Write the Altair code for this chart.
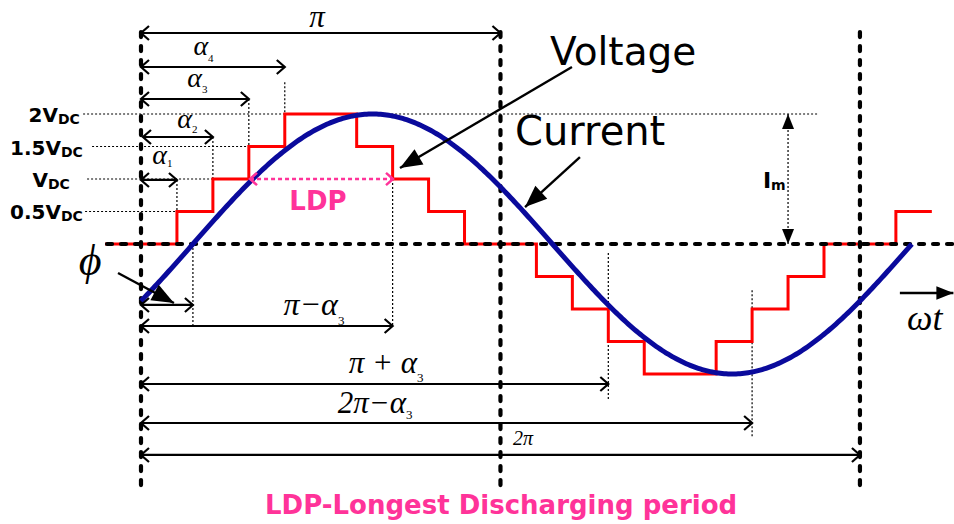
import math
import altair as alt
import pandas as pd

# ---------------------------------------------------------------
# Waveform data: angle ωt in degrees, amplitudes in units of V_DC
# ---------------------------------------------------------------
ALPHAS = [18, 36, 54, 72]                      # switching angles α1..α4
STEP_EDGES = [-18, 18, 36, 54, 72, 108, 126, 144, 162,
              198, 216, 234, 252, 288, 306, 324, 342, 378, 396]
STEP_LEVELS = [0, 0.5, 1, 1.5, 2, 1.5, 1, 0.5, 0,
               -0.5, -1, -1.5, -2, -1.5, -1, -0.5, 0, 0.5, 0.5]
I_M = 2.0          # current amplitude (same height as 2V_DC)
PHI = 26           # current lags the voltage by φ degrees
CURRENT_SPAN = (0, 386)

LEVEL_NAMES = ["0.5V", "V", "1.5V", "2V"]
LEVEL_VALUES = [0.5, 1, 1.5, 2]

# dimension arrows: label, row height (V_DC units), start, end (degrees)
DIM_NAMES = ["π", "α4", "α3", "α2", "α1", "φ", "π-α3", "π+α3", "2π-α3", "2π"]
DIM_ROWS = [3.246, 2.723, 2.231, 1.646, 0.985, -0.938, -1.262, -2.154, -2.754, -3.246]
DIM_START = [0, 0, 0, 1, 0, 0, 0, 0, 0, 0]
DIM_END = [180, 72, 54, 36, 18, 26, 126, 234, 306, 360]

# ---------------------------------------------------------------
W, H = 954, 524
X_DOM = [-70.6, 407.1]
Y_DOM = [-4.308, 3.754]
PX_PER_DEG = W / (X_DOM[1] - X_DOM[0])
PX_PER_V = H / (Y_DOM[1] - Y_DOM[0])

SANS = "DejaVu Sans"
SERIF = "Liberation Serif"
RED = "#ff0000"
BLUE = "#0a0a9c"
PINK = "#ff3399"

XS = alt.Scale(domain=X_DOM, nice=False, zero=False)
YS = alt.Scale(domain=Y_DOM, nice=False, zero=False)


def xq(f):
    return alt.X(f"{f}:Q", scale=XS, axis=None)


def yq(f):
    return alt.Y(f"{f}:Q", scale=YS, axis=None)


def screen_angle(x1, y1, x2, y2):
    dx = (x2 - x1) * PX_PER_DEG
    dy = -(y2 - y1) * PX_PER_V
    return math.degrees(math.atan2(dy, dx)) % 360


def rules(rows, **mark):
    df = pd.DataFrame(rows, columns=["x", "x2", "y", "y2"])
    return alt.Chart(df).mark_rule(**mark).encode(
        x=xq("x"), x2="x2:Q", y=yq("y"), y2="y2:Q")


CHEVRON = "M-1,-0.875L0,0L-1,0.875"
HEAD = "M0,0L-1,-0.4L-1,0.4Z"


def heads(rows, shape, length, filled, color, sw=0.0):
    df = pd.DataFrame(rows, columns=["x", "y", "angle"])
    return alt.Chart(df).mark_point(
        shape=shape, size=(2 * length) ** 2, filled=filled, color=color,
        opacity=1, strokeWidth=sw, strokeJoin="miter").encode(
        x=xq("x"), y=yq("y"), angle=alt.Angle("angle:Q", scale=None))


def label(text, x, y, size, font=SANS, weight="normal", style="normal",
          align="left", color="black", dy=0):
    df = pd.DataFrame({"x": [x], "y": [y], "t": [text]})
    return alt.Chart(df).mark_text(
        font=font, fontSize=size, fontWeight=weight, fontStyle=style,
        align=align, baseline="alphabetic", color=color, dy=dy).encode(
        x=xq("x"), y=yq("y"), text="t:N")


layers = []

# thin dotted guide lines
guide_rows = [
    (-29.0, 339.0, 2, 2), (-24.5, ALPHAS[2], 1.5, 1.5),
    (-27.0, ALPHAS[1], 1, 1), (-28.0, ALPHAS[0], 0.5, 0.5),
    (ALPHAS[0], ALPHAS[0], 0.985, 0.5), (ALPHAS[1], ALPHAS[1], 1.646, 1),
    (ALPHAS[2], ALPHAS[2], 2.231, 1.5), (ALPHAS[3], ALPHAS[3], 2.49, 2),
    (PHI, PHI, 0, -1.262), (180 - ALPHAS[2], 180 - ALPHAS[2], 1, -1.262),
    (180 + ALPHAS[2], 180 + ALPHAS[2], -0.14, -2.40),
    (360 - ALPHAS[2], 360 - ALPHAS[2], -0.71, -2.97),
    (324, 324, 2, 0),
]
layers.append(rules(guide_rows, color="black", strokeWidth=1.2, strokeDash=[2, 2]))

# staircase output voltage
volt = pd.DataFrame({"wt": STEP_EDGES, "v": STEP_LEVELS})
layers.append(alt.Chart(volt).mark_line(
    interpolate="step-after", color=RED, strokeWidth=3).encode(
    x=xq("wt"), y=yq("v")))

# zero axis and period markers (heavy dotted)
heavy = dict(color="black", strokeWidth=4.2, strokeDash=[5, 9], strokeCap="round")
layers.append(rules([(-17, 407.1, 0, 0)], **heavy))
layers.append(rules([(p, p, 3.26, -3.77) for p in (0, 180, 360)], **heavy))

# load current
t = list(range(CURRENT_SPAN[0], CURRENT_SPAN[1] + 1))
cur = pd.DataFrame({"wt": t,
                    "i": [I_M * math.sin(math.radians(a - PHI)) for a in t]})
layers.append(alt.Chart(cur).mark_line(color=BLUE, strokeWidth=5).encode(
    x=xq("wt"), y=yq("i")))

# dimension arrows with open heads at both ends
dim_rows = [(s, e, r, r) for s, e, r in zip(DIM_START, DIM_END, DIM_ROWS)]
layers.append(rules(dim_rows, color="black", strokeWidth=2.2))
chev = [(e, r, 0) for e, r in zip(DIM_END, DIM_ROWS)] + \
       [(s, r, 180) for s, r in zip(DIM_START, DIM_ROWS)]
layers.append(heads(chev, CHEVRON, 8, False, "black", 2.2))

# longest discharging period
layers.append(rules([(54.6, 126.2, 1, 1)], color=PINK, strokeWidth=2.5, strokeDash=[4, 3]))
layers.append(heads([(126.2, 1, 0), (54.6, 1, 180)], CHEVRON, 7, False, PINK, 2.5))

# pointer arrows with filled heads
pointers = [
    (215.8, 2.723, 129.7, 1.169),   # Voltage
    (219.8, 1.338, 192.3, 0.569),   # Current
    (-11.5, -0.446, 16.5, -0.908),  # φ
    (380.0, -0.754, 406.8, -0.754),  # ωt axis
]
layers.append(rules([(a, c, b, d) for a, b, c, d in pointers], color="black", strokeWidth=2.4))
layers.append(heads([(c, d, screen_angle(a, b, c, d)) for a, b, c, d in pointers[:3]],
                    HEAD, 22, True, "black"))
layers.append(heads([(pointers[3][2], pointers[3][3], 0)], HEAD, 17, True, "black"))
layers.append(heads([(324, 2, 270), (324, 0, 90)], HEAD, 15, True, "black"))

# voltage level labels
level_x = [-40.1, -46.6, -40.1, -41.6]
for name, val, lx in zip(LEVEL_NAMES, LEVEL_VALUES, level_x):
    layers.append(label(name, lx, val, 20, weight="bold", align="right", dy=8))
    layers.append(label("DC", lx, val, 14, weight="bold", dy=10))

# curve names and notes
layers.append(label("Voltage", 204.8, 2.754, 39))
layers.append(label("Current", 187.3, 1.523, 40))
layers.append(label("LDP", 88.6, 0.523, 26, weight="bold", align="center", color=PINK))
layers.append(label("LDP-Longest Discharging period", 180.3, -4.154, 26,
                    weight="bold", align="center", color=PINK))
layers.append(label("I", 315.5, 0.862, 22, weight="bold", align="right"))
layers.append(label("m", 315.5, 0.862, 14, weight="bold", dy=2))

# math labels
it = dict(font=SERIF, style="italic")
layers.append(label("π", 88.1, 3.338, 31, align="center", **it))
for sub, ax, ay, ddy in [("4", 33.6, 2.908, 7), ("3", 30.5, 2.415, 6),
                         ("2", 25.5, 1.785, 5), ("1", 13.0, 1.231, 3)]:
    layers.append(label("α", ax, ay, 28, align="right", **it))
    layers.append(label(sub, ax, ay, 11, font=SERIF, dy=ddy))
for main, ax, ay, size, ddy in [("π−α", 98.6, -1.092, 32, 10),
                                ("π + α", 138.2, -1.985, 31, 9),
                                ("2π−α", 132.7, -2.6, 31, 6)]:
    layers.append(label(main, ax, ay, size, align="right", **it))
    layers.append(label("3", ax, ay, 13, font=SERIF, dy=ddy))
layers.append(label("2π", 186.3, -3.092, 20, **it))
layers.append(label("ωt", 383.6, -1.323, 36, **it))
layers.append(label("ϕ", -25.5, -0.477, 44, align="center", **it))

chart = alt.layer(*layers).properties(
    width=W, height=H,
    autosize=alt.AutoSizeParams(type="none"),
    padding=0,
).configure_view(stroke=None)

chart.save("out.html", embed_options={"renderer": "svg", "actions": False})
